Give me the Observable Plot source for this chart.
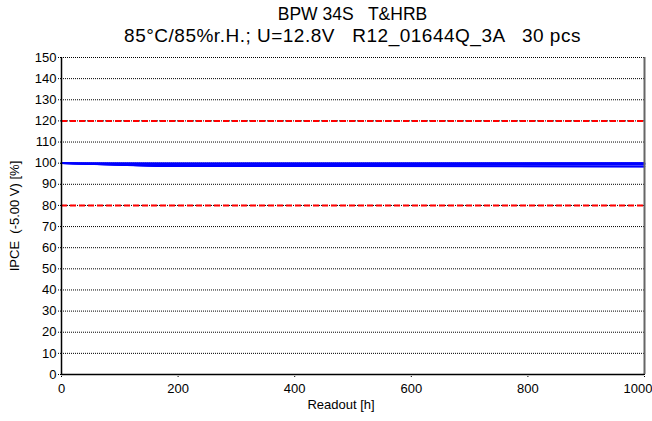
<!DOCTYPE html>
<html><head><meta charset="utf-8">
<script src="https://cdn.jsdelivr.net/npm/d3@7"></script>
<script src="https://cdn.jsdelivr.net/npm/@observablehq/plot@0.6"></script>
<style>
body{margin:0;background:#fff;}
#title{width:583px;margin-left:61px;height:50px;text-align:center;font-family:"Liberation Sans",Arial,sans-serif;font-size:19px;letter-spacing:0.5px;color:#000;white-space:pre;}
#title div{height:21px;line-height:21px;}
#title .l1{padding-top:4px;font-size:17.5px;letter-spacing:0;}
</style></head>
<body>
<div id="title"><div class="l1">BPW 34S   T&amp;HRB</div><div>85°C/85%r.H.; U=12.8V   R12_01644Q_3A   30 pcs</div></div>
<div id="chart"></div>
<script>
const hours = [0, 168, 500, 1000];
const s1 = [100, 100, 100, 100];
const s2 = [100, 99.9, 100, 100.1];
const s3 = [100, 99.5, 99.6, 99.8];
const s4 = [100, 98.6, 99.0, 99.3];
const s5 = [100, 98.5, 98.6, 98.3];
const s6 = [100, 99.0, 98.7, 98.4];
const s7 = [100, 99.8, 99.5, 99.9];
const s8 = [100, 98.7, 99.3, 99.4];
const seriesList = [s1, s2, s3, s4, s5, s6, s7, s8];
const limits = [80, 120];
const yTicks = d3.range(0, 151, 10);
const xTicks = [0, 200, 400, 600, 800, 1000];

const data = [];
seriesList.forEach((s, i) => s.forEach((v, j) => data.push({id: i, h: hours[j], v})));

const font = "'Liberation Sans', Arial, sans-serif";
const lastX = xTicks[xTicks.length - 1];
const chart = Plot.plot({
  width: 652, height: 371,
  marginLeft: 61, marginRight: 8, marginTop: 7, marginBottom: 47,
  style: {fontFamily: font, fontSize: "13px", color: "#000", background: "#fff"},
  x: {domain: [0, 1000]},
  y: {domain: [0, 150]},
  marks: [
    Plot.ruleY(yTicks.filter(d => d > 0), {stroke: "#000", strokeDasharray: "1,1", strokeWidth: 1}),
    Plot.ruleY(limits, {stroke: "#ff0000", strokeWidth: 2, strokeDasharray: "6,3"}),
    Plot.lineY(data, {x: "h", y: "v", z: "id", stroke: "#0000ff", strokeWidth: 1.5}),
    Plot.ruleX([1000], {stroke: "#666", strokeWidth: 2}),
    Plot.ruleX([0], {stroke: "#000", strokeWidth: 1.5}),
    Plot.ruleY([0], {stroke: "#000", strokeWidth: 1.5}),
    Plot.axisY({ticks: yTicks, tickSize: 4, tickPadding: 1, strokeDasharray: "1,1", stroke: "#000", label: null, fontSize: 13}),
    Plot.axisX({ticks: xTicks, tickSize: 4, tickPadding: 5, strokeDasharray: "1,1", stroke: "#000", label: null, fontSize: 13,
      tickFormat: d => d === lastX ? "" : String(d)}),
    Plot.text([lastX], {x: d => d, frameAnchor: "bottom", lineAnchor: "top", dy: 9, textAnchor: "end", dx: 8, fontSize: 13, text: d => String(d)}),
    Plot.text(["IPCE  (-5.00 V) [%]"], {frameAnchor: "left", textAnchor: "middle", dx: -47, rotate: -90, fontSize: 13}),
    Plot.text(["Readout [h]"], {frameAnchor: "bottom", dy: 34, dx: -12, fontSize: 13})
  ]
});
document.getElementById("chart").appendChild(chart);
</script>
</body></html>
